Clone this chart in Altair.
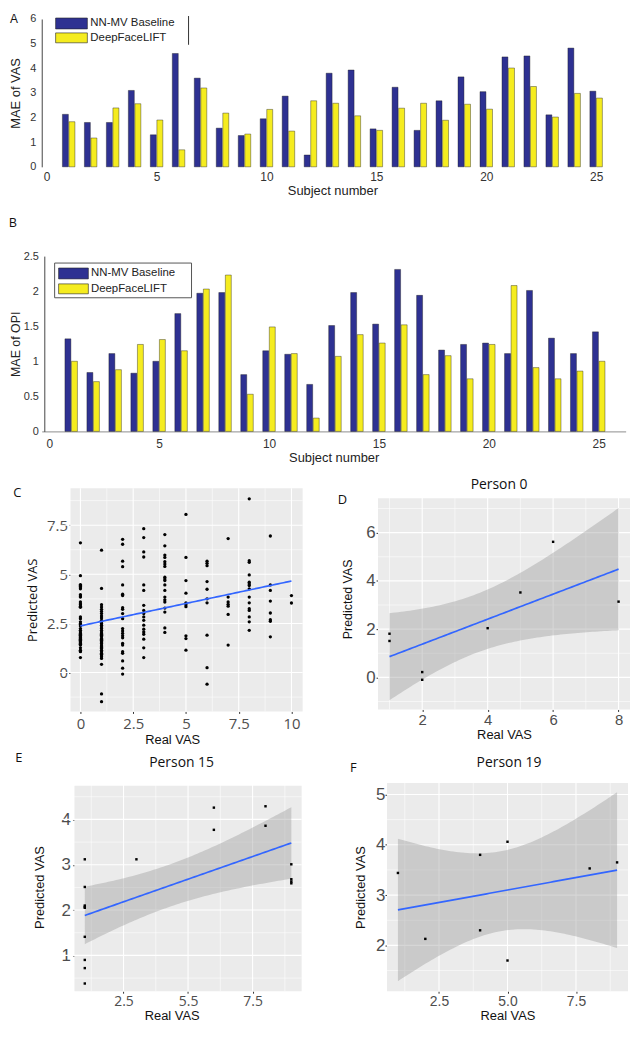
import altair as alt
import numpy as np
import pandas as pd

# ------------------------------------------------------------------ data
subjects = list(range(1, 26))
vas_baseline = [2.13, 1.80, 1.80, 3.10, 1.30, 4.60, 3.60, 1.57, 1.27, 1.95, 2.87, 0.48, 3.80,
                3.93, 1.54, 3.23, 1.48, 2.68, 3.65, 3.05, 4.46, 4.50, 2.11, 4.82, 3.07]
vas_deepface = [1.83, 1.17, 2.39, 2.56, 1.90, 0.69, 3.20, 2.18, 1.33, 2.33, 1.45, 2.68, 2.58,
                2.07, 1.48, 2.38, 2.58, 1.89, 2.54, 2.34, 4.01, 3.26, 2.02, 2.98, 2.79]
opi_baseline = [1.32, 0.84, 1.11, 0.83, 1.00, 1.68, 1.97, 1.98, 0.81, 1.15, 1.10, 0.67, 1.51,
                1.98, 1.53, 2.31, 1.94, 1.16, 1.24, 1.26, 1.11, 2.01, 1.33, 1.11, 1.42]
opi_deepface = [1.00, 0.71, 0.88, 1.24, 1.31, 1.15, 2.03, 2.23, 0.53, 1.49, 1.11, 0.19, 1.07,
                1.38, 1.26, 1.52, 0.81, 1.08, 0.75, 1.24, 2.08, 0.91, 0.75, 0.86, 1.00]

# panel C: predicted VAS for each real VAS value
c_pred = {
    0: [6.60, 4.93, 4.48, 4.43, 4.38, 4.31, 4.26, 3.96, 3.89, 3.84, 3.59, 3.50, 3.45, 3.38, 3.32,
        2.83, 2.74, 2.58, 2.49, 2.44, 2.37, 2.24, 2.15, 2.07, 1.99, 1.95, 1.90, 1.86, 1.82, 1.78,
        1.73, 1.69, 1.65, 1.61, 1.57, 1.52, 1.48, 1.44, 1.40, 1.26, 1.14, 1.10, 1.06, 0.76],
    1: [6.23, 4.28, 3.45, 3.33, 3.22, 3.11, 3.00, 2.88, 2.78, 2.66, 2.58, 2.49, 2.41, 2.32, 2.24,
        2.15, 2.07, 1.99, 1.95, 1.90, 1.86, 1.82, 1.73, 1.69, 1.65, 1.61, 1.57, 1.52, 1.48, 1.40,
        1.35, 1.31, 1.27, 1.23, 1.14, 1.06, 0.98, 0.93, 0.89, 0.81, 0.72, 0.42, -1.09, -1.48],
    2: [6.78, 6.53, 5.67, 5.39, 4.46, 3.99, 3.92, 3.30, 3.22, 3.00, 2.74, 2.24, 2.12, 1.99, 1.87,
        1.77, 1.48, 1.40, 1.06, 0.98, 0.59, 0.22, -0.08],
    3: [7.32, 6.87, 6.14, 5.88, 4.46, 4.18, 3.42, 3.16, 3.00, 2.83, 2.66, 2.41, 2.21, 2.07, 1.95,
        1.70, 1.26, 0.76],
    4: [7.02, 6.45, 5.98, 5.86, 5.64, 5.52, 5.40, 4.85, 4.76, 4.68, 4.46, 4.18, 3.84, 3.70, 3.59,
        3.28, 3.08, 2.27, 2.04],
    5: [8.05, 5.86, 4.68, 4.04, 3.55, 3.45, 3.35, 1.87, 1.73, 1.14],
    6: [5.67, 5.56, 5.44, 4.63, 4.24, 3.75, 3.55, 1.90, 0.25, -0.59],
    7: [6.82, 3.84, 3.59, 3.47, 3.38, 2.96, 1.40],
    8: [8.84, 5.69, 5.61, 4.97, 4.60, 4.51, 4.43, 4.26, 3.84, 3.55, 3.25, 3.16, 2.83, 2.58, 2.15],
    9: [6.95, 4.46, 4.18, 3.64, 3.03, 2.69, 2.61, 1.82],
    10: [3.92, 3.54],
}

d_real = [1, 1, 2, 2, 4, 5, 6, 8]
d_pred = [1.81, 1.51, 0.22, -0.10, 2.04, 3.52, 5.62, 3.14]

e_real = [1, 1, 1, 1, 1, 1, 1, 1, 1, 3, 6, 6, 8, 8, 9, 9, 9, 9]
e_pred = [3.12, 2.51, 2.10, 2.07, 2.05, 1.41, 0.90, 0.72, 0.38, 3.12, 4.26, 3.77, 4.29, 3.86,
          3.01, 2.68, 2.63, 2.59]

f_real = [1, 2, 4, 4, 5, 5, 8, 9]
f_pred = [3.44, 2.13, 3.80, 2.30, 4.06, 1.70, 3.53, 3.65]

# ------------------------------------------------------------------ helpers
FONT = "Liberation Sans"
OPEN = "Open Sans"
BLUE = "#2e3192"
YELLOW = "#f5ec1f"
GREY = "#ebebeb"
ONE = pd.DataFrame({"k": [0]})

T975 = {1: 12.706, 2: 4.303, 3: 3.182, 4: 2.776, 5: 2.571, 6: 2.447, 7: 2.365, 8: 2.306,
        9: 2.262, 10: 2.228, 11: 2.201, 12: 2.179, 13: 2.160, 14: 2.145, 15: 2.131,
        16: 2.120, 17: 2.110, 18: 2.101, 19: 2.093, 20: 2.086}


def tq(df):
    if df in T975:
        return T975[df]
    z = 1.959964
    return z + (z ** 3 + z) / (4 * df) + (5 * z ** 5 + 16 * z ** 3 + 3 * z) / (96 * df ** 2)


def smooth(xs, ys, n=80):
    """Linear model fit with 95% confidence band (like geom_smooth(method='lm'))."""
    x = np.asarray(xs, float)
    y = np.asarray(ys, float)
    k = len(x)
    mx, my = x.mean(), y.mean()
    sxx = ((x - mx) ** 2).sum()
    b = ((x - mx) * (y - my)).sum() / sxx
    a = my - b * mx
    s = np.sqrt(((y - a - b * x) ** 2).sum() / (k - 2))
    g = np.linspace(x.min(), x.max(), n)
    f = a + b * g
    se = s * np.sqrt(1.0 / k + (g - mx) ** 2 / sxx)
    t = tq(k - 2)
    return pd.DataFrame({"x": g, "fit": f, "lo": f - t * se, "hi": f + t * se})


def rect(x1, y1, x2, y2, fill, stroke=None, sw=0.6):
    kw = dict(fill=fill, opacity=1)
    if stroke:
        kw.update(stroke=stroke, strokeWidth=sw)
    return alt.Chart(ONE).mark_rect(**kw).encode(
        x=alt.value(x1), x2=alt.value(x2), y=alt.value(y1), y2=alt.value(y2))


def anchors(x1, y1, x2, y2):
    # tiny white marks fixing the extent of a cell around its plot
    return [rect(x1, y1, x1 + 0.5, y1 + 0.5, "white"), rect(x2 - 0.5, y2 - 0.5, x2, y2, "white")]


def txt(s, x, y, size, font=FONT, color="#111111", align="center"):
    return alt.Chart(pd.DataFrame({"t": [s]})).mark_text(
        font=font, fontSize=size, color=color, align=align, baseline="middle"
    ).encode(text="t:N", x=alt.value(x), y=alt.value(y))


def bar_panel(base, deep, xdom, ymax, yvals, ytitle, w, h, anc, xdomain, xpad, ytsize, ytpad,
              yoff, extra):
    df = pd.DataFrame({"subject": subjects, "baseline": base, "deepface": deep})
    xax = alt.Axis(values=[0, 5, 10, 15, 20, 25], format="d", title="Subject number", grid=False,
                   domain=xdomain, domainColor="#8c8c8c", ticks=False, labelFont=FONT,
                   labelFontSize=12, labelColor="#333333", labelPadding=xpad, labelFlush=False,
                   titleFont=FONT, titleFontSize=13, titleFontWeight="normal",
                   titleColor="#222222", titlePadding=2, minExtent=0, maxExtent=400)
    yax = alt.Axis(values=yvals, format=".2~r", title=ytitle, grid=False, domain=True,
                   domainColor="#444444", ticks=False, labelFont=FONT, labelFontSize=11,
                   labelColor="#333333", labelPadding=6, labelFlush=False, titleFont=FONT,
                   titleFontSize=ytsize, titleFontWeight="normal", titleColor="#222222",
                   titlePadding=ytpad, offset=yoff, minExtent=0, maxExtent=400)
    X = alt.X("subject:Q", scale=alt.Scale(domain=xdom, nice=False, zero=False), axis=xax)
    ysc = alt.Scale(domain=[0, ymax], nice=False)
    b1 = alt.Chart(df).mark_bar(width=6, xOffset=-3.3, color=BLUE, stroke="#1a1a1a",
                                strokeWidth=0.4).encode(x=X, y=alt.Y("baseline:Q", scale=ysc, axis=yax))
    b2 = alt.Chart(df).mark_bar(width=6, xOffset=3.3, color=YELLOW, stroke="#1a1a1a",
                                strokeWidth=0.4).encode(x=X, y=alt.Y("deepface:Q", scale=ysc, axis=yax))
    return alt.layer(*anchors(*anc), b1, b2, *extra).properties(width=w, height=h)


def gg_axis(values, title, lfont, lsize, lpad, tfont, tsize, tpad, fmt=".2~r", expr=None, off=0):
    kw = dict(values=values, title=title, grid=False, domain=False, ticks=True,
              tickColor="#333333", tickSize=2, tickWidth=1,
              labelColor="#4d4d4d", labelFont=lfont, labelFontSize=lsize, labelPadding=lpad,
              labelFlush=False, labelOverlap=False, titleFont=tfont, titleFontSize=tsize,
              titleFontWeight="normal", titleColor="#111111", titlePadding=tpad, format=fmt,
              offset=off, minExtent=0, maxExtent=400)
    if expr:
        kw["labelExpr"] = expr
    return alt.Axis(**kw)


def gg_panel(rx, py, dom_x, dom_y, ax_x, ax_y, major_x, major_y, minor_x, minor_y, w, h,
             gx, gy, anc, texts, band, big_points):
    fit = smooth(rx, py)
    pts = pd.DataFrame({"real": rx, "pred": py})

    def X(f):
        return alt.X(f, scale=alt.Scale(domain=dom_x, nice=False, zero=False), axis=ax_x)

    def Y(f):
        return alt.Y(f, scale=alt.Scale(domain=dom_y, nice=False, zero=False), axis=ax_y)

    def vlines(vals, sw):
        return alt.Chart(pd.DataFrame({"v": vals})).mark_rule(color="white", strokeWidth=sw) \
            .encode(x=X("v:Q"))

    def hlines(vals, sw):
        return alt.Chart(pd.DataFrame({"v": vals})).mark_rule(color="white", strokeWidth=sw) \
            .encode(y=Y("v:Q"))

    layers = anchors(*anc) + [
        rect(gx, gy, w, h, GREY),
        vlines(minor_x, 0.55), hlines(minor_y, 0.55),
        vlines(major_x, 1.1), hlines(major_y, 1.1)]
    if band:
        layers.append(alt.Chart(fit).mark_area(color="#999999", opacity=0.4)
                      .encode(x=X("x:Q"), y=Y("lo:Q"), y2="hi:Q"))
    if big_points:
        pm = alt.Chart(pts).mark_circle(size=11, color="black", opacity=1)
    else:
        pm = alt.Chart(pts).mark_point(shape="square", filled=True, size=6, color="black", opacity=1)
    layers.append(pm.encode(x=X("real:Q"), y=Y("pred:Q")))
    layers.append(alt.Chart(fit).mark_line(color="#3366ff", strokeWidth=1.7)
                  .encode(x=X("x:Q"), y=Y("fit:Q")))
    layers += texts
    return alt.layer(*layers).properties(width=w, height=h)


# ------------------------------------------------------------------ panel A
legA = [rect(14, -1, 46, 10, BLUE, "#222222"), rect(14, 14, 46, 24, YELLOW, "#222222"),
        txt("NN-MV Baseline", 49, 4.5, 11.5, align="left", color="#222222"),
        txt("DeepFaceLIFT", 49, 19, 11.5, align="left", color="#222222"),
        alt.Chart(ONE).mark_rule(color="#333333", strokeWidth=1).encode(
            x=alt.value(148), y=alt.value(-3), y2=alt.value(26)),
        txt("A", -28, 0.5, 12)]
A = bar_panel(vas_baseline, vas_deepface, [0, 26], 6, [0, 1, 2, 3, 4, 5, 6], "MAE of VAS",
              586, 149, (-33, -6, 591, 190), False, 5, 13, 7, 0, legA)

# ------------------------------------------------------------------ panel B
legB = [rect(13, 7, 151, 42, "white", "#555555", 1),
        rect(17, 12, 47, 23, BLUE, "#222222"), rect(17, 28, 47, 38, YELLOW, "#222222"),
        txt("NN-MV Baseline", 49.6, 17.5, 11.5, align="left", color="#222222"),
        txt("DeepFaceLIFT", 49.6, 33, 11.5, align="left", color="#222222"),
        txt("B", -29, -33.5, 12)]
B = bar_panel(opi_baseline, opi_deepface, [-0.1144, 26], 2.5, [0, 0.5, 1, 1.5, 2, 2.5],
              "MAE of OPI", 588.6, 176.7, (-33, -47, 591, 220), True, 7, 12.5, 1, -2.6, legB)

# ------------------------------------------------------------------ panel C
c_real = [k for k, v in c_pred.items() for _ in v]
c_vals = [p for v in c_pred.values() for p in v]
C = gg_panel(
    c_real, c_vals, [-1.8334, 10.53], [-1.98, 9.38],
    gg_axis([0, 2.5, 5, 7.5, 10], "Real VAS", OPEN, 15, 3, FONT, 13, 2),
    gg_axis([0, 2.5, 5, 7.5], "Predicted VAS", OPEN, 15, 1, OPEN, 13, 7, off=-29),
    [0, 2.5, 5, 7.5, 10], [0, 2.5, 5, 7.5],
    [1.25, 3.75, 6.25, 8.75], [-1.25, 1.25, 3.75, 6.25, 8.75],
    263, 225, 29, 0, (0, -12, 295, 263),
    [txt("C", -24.5, 5, 13, font=OPEN)], False, True)

# ------------------------------------------------------------------ panel D
D = gg_panel(
    d_real, d_pred, [0.65, 8.35], [-1.33, 7.841],
    gg_axis([2, 4, 6, 8], "Real VAS", FONT, 15, 1, FONT, 13, 1),
    gg_axis([0, 2, 4, 6], "Predicted VAS", FONT, 17, 1, FONT, 12.5, 11),
    [2, 4, 6, 8], [0, 2, 4, 6],
    [1, 3, 5, 7], [-1, 1, 3, 5, 7],
    254, 223, 0, 10, (-42, -12, 254, 263),
    [txt("D", -36, 12, 13, font=OPEN), txt("Person 0", 122, -3, 14, font=OPEN)], True, False)

# ------------------------------------------------------------------ panel E
E = gg_panel(
    e_real, e_pred, [-0.668, 9.4], [0.21, 4.806],
    gg_axis([2.5, 5, 7.5], "Real VAS", OPEN, 14, 1, FONT, 13, 2,
            expr="datum.value == 5 ? '5.5' : format(datum.value, '.1f')"),
    gg_axis([1, 2, 3, 4], "Predicted VAS", FONT, 17, 2, FONT, 13, 15, off=-33),
    [2.5, 5, 7.5], [1, 2, 3, 4],
    [1.25, 3.75, 6.25, 8.75], [0.5, 1.5, 2.5, 3.5, 4.5],
    262, 210, 33, 3, (0, -32, 304, 243),
    [txt("E", -23, -25, 13, font=OPEN), txt("Person 15", 141, -20, 14, font=OPEN)], True, False)

# ------------------------------------------------------------------ panel F
F = gg_panel(
    f_real, f_pred, [0.6, 9.4], [1.09, 5.23],
    gg_axis([2.5, 5, 7.5], "Real VAS", FONT, 14, 1, FONT, 13, 2, fmt=".1f"),
    gg_axis([2, 3, 4, 5], "Predicted VAS", FONT, 17, 0, FONT, 13, 8),
    [2.5, 5, 7.5], [2, 3, 4, 5],
    [1.25, 3.75, 6.25, 8.75], [1.5, 2.5, 3.5, 4.5],
    243, 210, 0, 0, (-42, -32, 237, 243),
    [txt("F", -34, -15, 13, font=OPEN), txt("Person 19", 123, -20, 14, font=OPEN)], True, False)

chart = alt.vconcat(
    A, B,
    alt.hconcat(C, D, spacing=0),
    alt.hconcat(E, F, spacing=0),
    spacing=0,
).properties(padding=0, background="white").configure_view(stroke="transparent")

chart.save("out.html", embed_options={"renderer": "svg", "actions": False})
